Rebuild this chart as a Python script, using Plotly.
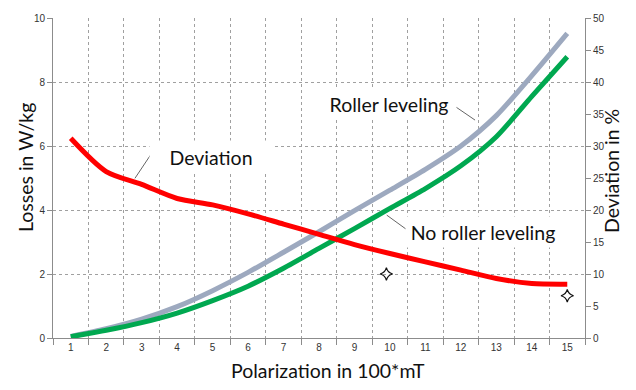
import plotly.graph_objects as go

polarization = list(range(1, 16))
tick_labels = [str(v) for v in polarization]
roller_leveling = [0.05, 0.29, 0.59, 0.98, 1.48, 2.05, 2.68, 3.32, 3.98, 4.62, 5.27, 6.00, 6.95, 8.20, 9.52]
no_roller_leveling = [0.04, 0.24, 0.48, 0.78, 1.17, 1.62, 2.18, 2.80, 3.42, 4.05, 4.67, 5.38, 6.29, 7.55, 8.79]
deviation = [31.2, 26.0, 24.0, 21.8, 20.8, 19.4, 17.8, 16.2, 14.6, 13.2, 11.9, 10.6, 9.3, 8.5, 8.4]
marker_x = [9.9, 15]
marker_y = [2.0, 1.32]

FONT = "Lato"
GRID = "#a0a0a0"
AXIS = "#8c8c8c"

fig = go.Figure()
fig.add_trace(go.Scatter(x=polarization, y=roller_leveling, mode="lines", name="Roller leveling",
                         line=dict(color="#9DA9BF", width=5, shape="spline", smoothing=0.7)))
fig.add_trace(go.Scatter(x=polarization, y=no_roller_leveling, mode="lines", name="No roller leveling",
                         line=dict(color="#00A850", width=5, shape="spline", smoothing=0.7)))
fig.add_trace(go.Scatter(x=marker_x, y=marker_y, mode="markers", name="points",
                         marker=dict(symbol="star-diamond-open", size=9, color="#111",
                                     line=dict(width=1.2, color="#111"))))
fig.add_trace(go.Scatter(x=polarization, y=deviation, mode="lines", name="Deviation", yaxis="y2",
                         line=dict(color="#FF0000", width=5, shape="spline", smoothing=0.8)))

# leader lines
leaders = [((3.28, 5.77), (2.81, 4.99)), ((11.74, 7.31), (12.40, 6.81)), ((9.91, 3.84), (10.47, 3.39))]
for (x0, y0), (x1, y1) in leaders:
    fig.add_shape(type="line", x0=x0, y0=y0, x1=x1, y1=y1, xref="x", yref="y",
                  line=dict(color="#666", width=1), layer="above")

labels = [("Deviation", 4.95, 5.66, 120, 30), ("Roller leveling", 9.96, 7.31, 132, 28),
          ("No roller leveling", 12.61, 3.30, 152, 28)]
for txt, x, y, w, h in labels:
    fig.add_annotation(text=txt, x=x, y=y, xref="x", yref="y", showarrow=False,
                       xanchor="center", yanchor="middle",
                       bgcolor="white", width=w, height=h,
                       font=dict(family=FONT, size=19.5, color="#111"))

# axis titles
title_font = dict(family=FONT, size=19.5, color="#111")
fig.add_annotation(text="Losses in W/kg", xref="paper", yref="paper", x=0, y=0.531,
                   xanchor="center", yanchor="middle",
                   xshift=-28, textangle=-90, showarrow=False, font=title_font)
fig.add_annotation(text="Deviation in %", xref="paper", yref="paper", x=1, y=0.522,
                   xanchor="center", yanchor="middle",
                   xshift=27, textangle=-90, showarrow=False, font=title_font)
fig.add_annotation(text="Polarization in 100*mT", xref="paper", yref="paper", x=0.517, y=-0.10,
                   xanchor="center", yanchor="middle",
                   showarrow=False, font=title_font)

# page body has an 8px default margin, so the figure is sized/offset to compensate
fig.update_layout(
    width=628, height=382,
    margin=dict(l=45, r=51, t=10, b=52),
    paper_bgcolor="white", plot_bgcolor="white",
    showlegend=False,
    font=dict(family="Liberation Sans", size=10, color="#333"),
    xaxis=dict(range=[0.5, 15.5], tickvals=polarization, ticktext=tick_labels, ticks="",
               showgrid=False, zeroline=False, showline=True, linecolor=AXIS, linewidth=1,
               automargin=False, tickfont=dict(size=10, color="#333"),
               minor=dict(tickvals=[i + 0.5 for i in range(0, 16)], ticks="outside", ticklen=6,
                          tickcolor=AXIS, showgrid=True, gridcolor=GRID, griddash="dot", gridwidth=1)),
    yaxis=dict(range=[0, 10], tickvals=[0, 2, 4, 6, 8, 10], ticks="outside", ticklen=5, tickcolor=AXIS,
               showgrid=True, gridcolor=GRID, griddash="dot", gridwidth=1, zeroline=False,
               automargin=False,
               showline=True, linecolor=AXIS, linewidth=1, tickfont=dict(size=10, color="#333")),
    yaxis2=dict(range=[0, 50], tickvals=list(range(0, 51, 5)), overlaying="y", side="right",
                ticks="outside", ticklen=5, tickcolor=AXIS, showgrid=False, zeroline=False,
                automargin=False,
                showline=True, linecolor=AXIS, linewidth=1, tickfont=dict(size=10, color="#333")),
)

fig.write_html("out.html")
